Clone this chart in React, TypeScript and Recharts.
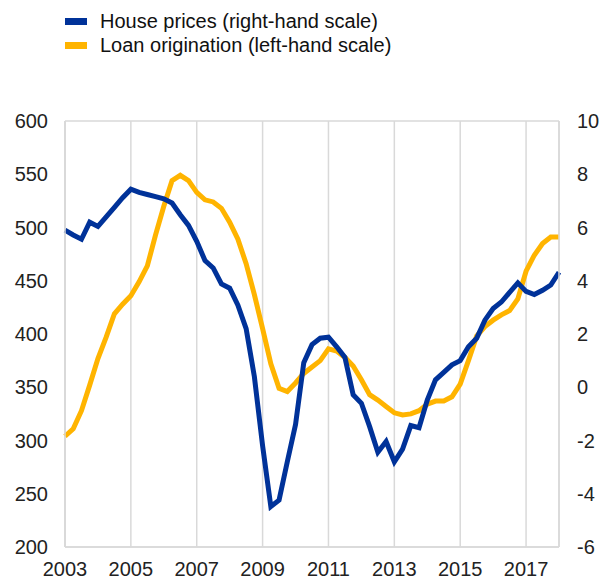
import React from "react";
import {
  CartesianGrid,
  Line,
  LineChart,
  XAxis,
  YAxis,
} from "recharts";

// quarterly observations, 2003 Q1 to 2018 Q1
const years = [
  2003, 2004, 2005, 2006, 2007, 2008, 2009, 2010, 2011, 2012, 2013, 2014,
  2015, 2016, 2017, 2018,
];
const quarters: string[] = [];
years.forEach((y) => {
  ["Q1", "Q2", "Q3", "Q4"].forEach((q) => {
    if (y < 2018 || q === "Q1") quarters.push(`${y}${q}`);
  });
});

// house prices, annual % change (right-hand scale)
const housePrices = [
  5.9, 5.72, 5.56, 6.2, 6.04, 6.4, 6.76, 7.12, 7.44, 7.32, 7.24, 7.16, 7.08,
  6.92, 6.48, 6.08, 5.48, 4.76, 4.48, 3.88, 3.72, 3.08, 2.2, 0.4, -2.2, -4.48,
  -4.24, -2.8, -1.4, 0.92, 1.6, 1.84, 1.88, 1.52, 1.12, -0.28, -0.6, -1.48,
  -2.44, -2.04, -2.8, -2.32, -1.44, -1.52, -0.48, 0.28, 0.56, 0.84, 1.0, 1.52,
  1.84, 2.52, 2.96, 3.2, 3.56, 3.92, 3.6, 3.48, 3.64, 3.84, 4.32,
];

// loan origination (left-hand scale)
const loanOrigination = [
  304, 311, 328, 352, 377, 397, 419, 428, 436, 449, 464, 493, 520, 544, 549,
  544, 533, 526, 524, 518, 505, 489, 466, 437, 405, 372, 349, 346, 354, 363,
  369, 375, 386, 384, 378, 370, 357, 343, 338, 332, 326, 324, 325, 328, 334,
  337, 337, 341, 353, 375, 398, 407, 413, 418, 422, 433, 459, 474, 485, 491,
  491,
];

const leftTicks = [200, 250, 300, 350, 400, 450, 500, 550, 600];
const rightTicks = [-6, -4, -2, 0, 2, 4, 6, 8, 10];

const BLUE = "#003299";
const YELLOW = "#FFB400";
const FONT = "'Liberation Sans', Arial, sans-serif";

const data = quarters.map((q, i) => ({
  q,
  house: housePrices[i],
  loan: loanOrigination[i],
}));

const legendItems = [
  { label: "House prices (right-hand scale)", color: BLUE },
  { label: "Loan origination (left-hand scale)", color: YELLOW },
];

export default function App() {
  const tick = { fill: "#222", fontSize: 20, fontFamily: FONT };
  return (
    <div style={{ position: "fixed", left: 0, top: 0, width: 600, height: 581, background: "#fff" }}>
      <div style={{ position: "absolute", left: 65, top: 9, fontFamily: FONT, fontSize: 20, color: "#111" }}>
        {legendItems.map((it) => (
          <div key={it.label} style={{ display: "flex", alignItems: "center", height: 24 }}>
            <span style={{ display: "inline-block", width: 22, height: 7, background: it.color, marginRight: 13 }} />
            {it.label}
          </div>
        ))}
      </div>
      <LineChart
        width={600}
        height={581}
        data={data}
        margin={{ top: 121, right: 0, bottom: 0, left: 0 }}
      >
        <CartesianGrid stroke="#d9d9d9" strokeWidth={1.5} />
        <XAxis
          dataKey="q"
          interval={7}
          tickFormatter={(v: string) => v.slice(0, 4)}
          tick={tick}
          tickLine={false}
          tickSize={0}
          tickMargin={15}
          axisLine={{ stroke: "#d9d9d9", strokeWidth: 1.5 }}
          height={34}
        />
        <YAxis
          yAxisId="left"
          domain={[200, 600]}
          ticks={leftTicks}
          width={65}
          tick={tick}
          tickLine={false}
          tickSize={0}
          tickMargin={17}
          axisLine={{ stroke: "#d9d9d9", strokeWidth: 1.5 }}
        />
        <YAxis
          yAxisId="right"
          orientation="right"
          domain={[-6, 10]}
          ticks={rightTicks}
          width={41}
          tick={tick}
          tickLine={false}
          tickSize={0}
          tickMargin={18}
          axisLine={{ stroke: "#d9d9d9", strokeWidth: 1.5 }}
        />
        <Line
          yAxisId="left"
          dataKey="loan"
          stroke={YELLOW}
          strokeWidth={5}
          dot={false}
          isAnimationActive={false}
        />
        <Line
          yAxisId="right"
          dataKey="house"
          stroke={BLUE}
          strokeWidth={5}
          dot={false}
          isAnimationActive={false}
        />
      </LineChart>
    </div>
  );
}
